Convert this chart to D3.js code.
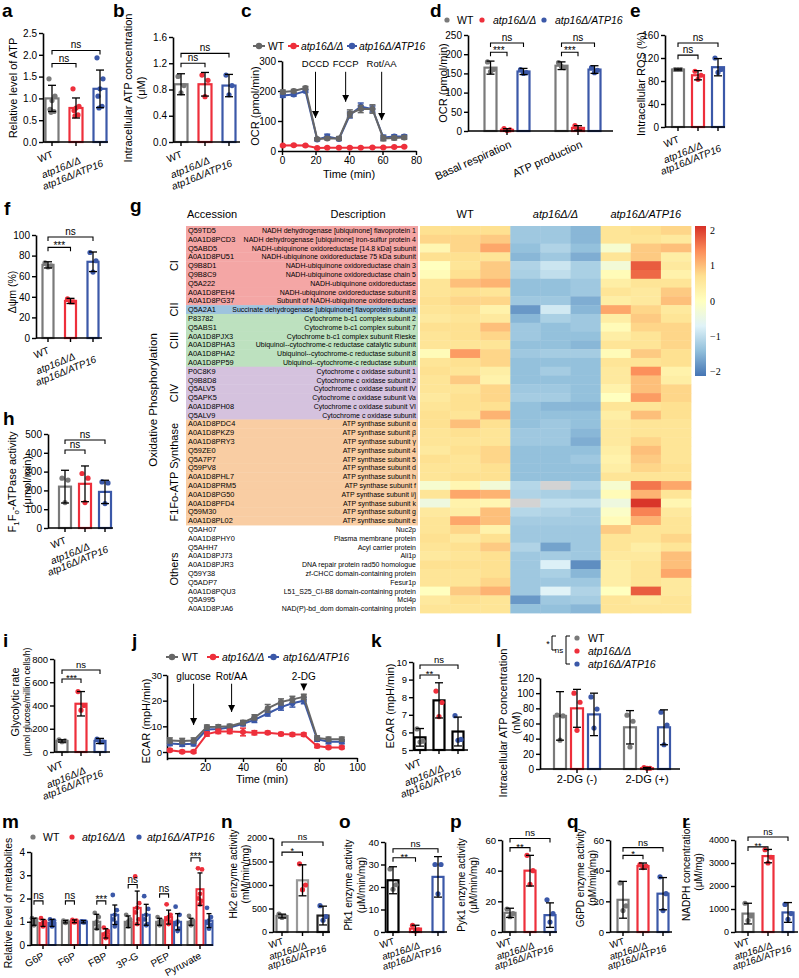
<!DOCTYPE html>
<html><head><meta charset="utf-8">
<script src="https://cdn.jsdelivr.net/npm/d3@7"></script>
<style>body{margin:0;background:#fff}svg{display:block}</style>
</head><body><script>
// ================= DATA =================
const groups3 = ["WT","atp16Δ/Δ","atp16Δ/ATP16"];
// a
const aMean=[1.0,0.78,1.22], aSD=[0.3,0.23,0.43];
const aPts=[[1.45,1.05,0.95,0.75,0.7,0.68],[1.22,0.82,0.78,0.72,0.62,0.6],[1.93,1.45,1.22,1.05,0.82,0.78]];
// b
const bMean=[0.88,0.88,0.86], bSD=[0.16,0.18,0.17];
const bPts=[[1.0,0.86,0.75],[1.02,0.94,0.69],[1.02,0.86,0.72]];
// c
const cTime=[0.5,7,14,21,27,34,40.5,47,54,60.5,67,73];
const cWT =[197,200,210,40,42,42,125,140,140,42,43,45];
const cDel=[18,19,18,10,11,11,11,11,12,12,13,14];
const cRes=[185,188,200,38,48,40,120,148,140,45,48,48];
const cWTe=[6,5,5,4,5,6,12,12,14,8,6,6];
const cDele=[3,3,3,2,2,2,2,2,2,2,2,2];
const cRese=[6,5,5,4,8,5,10,12,10,8,6,6];
const cArrows=[{t:20,label:"DCCD",tip:110},{t:38,label:"FCCP",tip:164},{t:59.5,label:"Rot/AA",tip:103}];
// d
const dCats=["Basal respiration","ATP production"];
const dMean=[[165,3,155],[170,8,160]], dSD=[[17,3,8],[10,6,10]];
const dPts=[[[180,160,155],[6,3,1],[160,152,150]],[[178,165,168],[14,5,4],[165,158,152]]];
// e
const eMean=[100,90,104], eSD=[1,8,15];
const ePts=[[100,100,100],[97,90,83],[120,100,95]];
// f
const fMean=[71,36,74], fSD=[3,2.5,9.5];
const fPts=[[73,70,69],[38,35,35],[83,75,64]];
// h
const hMean=[220,235,192], hSD=[87,95,62];
const hPts=[[265,255,135],[290,265,135],[245,240,130]];
// i
const iMean=[95,415,95], iSD=[10,105,22];
const iPts=[[105,95,88],[520,400,360],[110,88,85]];
// j
const jTime=[1.5,8,14,21,27,33,40,46,53,60,66,72,79,85,92];
const jWT =[4.5,4.3,4.5,9.7,9.8,10,11.5,13.5,17,19.5,20.5,21.5,5.5,5,5];
const jDel=[0.7,0.1,0.1,7,8,8,7.8,7.5,7.5,7,6.8,6.8,2.3,1.8,1.8];
const jRes=[3.3,3,3.2,8.8,9,9.5,11,12.5,15,17.5,19,20,5,4,4];
const jWTe=[1,1,1,0.8,0.8,0.8,0.8,1,1.5,1.2,1.2,1,0.8,0.8,0.8];
const jDele=[0.5,0.5,0.5,0.8,0.8,0.8,1.5,0.8,0.6,0.6,0.6,0.6,0.6,0.5,0.5];
const jRese=[0.8,0.8,0.8,0.8,0.8,0.8,0.8,1,1,1.2,1.5,1.2,0.8,0.8,0.8];
const jArrows=[{t:14,label:"glucose",tip:10.5},{t:34,label:"Rot/AA",tip:15.6},{t:72,label:"2-DG",tip:24}];
// k
const kMean=[5.72,7.82,6.05], kSD=[0.5,1.0,0.82];
const kPts=[[6.2,5.5,5.45],[8.35,7.7,6.9],[6.95,5.6,5.55]];
// l
const lCats=["2-DG (-)","2-DG (+)"];
const lMean=[[70,80,72],[55,1,55]], lSD=[[32,25,28],[22,1,23]];
const lPts=[[[71,70,38],[100,88,51],[95,79,54]],[[71,63,29],[2,1,1],[75,58,32]]];
// m
const mCats=["G6P","F6P","FBP","3P-G","PEP","Pyruvate"];
const mMean=[[1,1,1,1,1,1],[0.95,1.02,0.5,1.6,1.2,2.4],[0.95,1.0,1.3,1.3,1.0,1.05]];
const mSD=[[0.15,0.05,0.32,0.25,0.15,0.15],[0.15,0.06,0.2,0.72,0.3,0.7],[0.15,0.05,0.42,0.45,0.35,0.3]];
const mPts=[
 [[1.15,1.1,1.0,0.95,0.9,0.85],[1.05,1.02,1.0,1.0,0.98,0.95],[1.38,1.2,1.0,0.9,0.8,0.7],[1.3,1.1,1.0,0.9,0.85,0.8],[1.2,1.05,1.0,0.95,0.9,0.85],[1.25,1.05,1.0,0.95,0.9,0.85]],
 [[1.15,1.0,0.95,0.9,0.85,0.8],[1.08,1.05,1.02,1.0,1.0,0.97],[0.75,0.6,0.5,0.45,0.35,0.3],[2.95,1.8,1.6,1.4,1.1,0.9],[1.75,1.3,1.2,1.1,1.0,0.9],[3.3,3.25,2.2,2.0,1.9,1.75]],
 [[1.1,1.05,0.95,0.9,0.85,0.8],[1.02,1.0,1.0,1.0,0.98,0.97],[2.15,1.5,1.3,1.1,0.95,0.8],[2.1,1.55,1.3,1.1,0.9,0.85],[1.65,1.3,1.0,0.9,0.7,0.6],[1.6,1.2,1.05,0.95,0.85,0.7]]];
const mSig=["ns","ns","***","ns","ns","***"], mSigLevel=[1.9,1.9,1.9,2.6,2.2,3.75];
// n-r
const nMean=[340,1100,350], nSD=[40,330,200], nPts=[[380,330,310],[1450,1000,900],[560,330,250]];
const oMean=[23,1.5,24.5], oSD=[6,1.5,9], oPts=[[28,21,19],[3,1,0.5],[30,30,17]];
const pMean=[12.5,40,11], pSD=[3,10,8], pPts=[[15,12,10],[50,40,31],[21,12,6.5]];
const qMean=[21,43,25], qSD=[12,2,10.5], qPts=[[32,17,14],[44,43,42],[36,25,14]];
const rMean=[800,3300,850], rSD=[450,290,430], rPts=[[1250,700,500],[3580,3250,3000],[1200,800,550]];
// g heatmap
const hmGroups=["CI","CII","CIII","CIV","F1Fo-ATP Synthase","Others"];
const hmGroupSizes=[9,1,6,6,12,10];
const hmBand=["#F4A6A5","#9EC3DE","#BDE1BF","#D5C2DE","#F9CDA3",null];
const accessions=["Q59TD5","A0A1D8PCD3","Q5ABD5","A0A1D8PU51","Q9B8D1","Q9B8C9","Q5A222","A0A1D8PEH4","A0A1D8PG37",
"Q5A2A1","P83782","Q5ABS1","A0A1D8PJX3","A0A1D8PHA3","A0A1D8PHA2","A0A1D8PP59",
"P0C8K9","Q9B8D8","Q5ALV5","Q5APK5","A0A1D8PH08","Q5ALV9",
"A0A1D8PDC4","A0A1D8PKZ9","A0A1D8PRY3","Q59ZE0","Q5A7P7","Q59PV8","A0A1D8PHL7","A0A1D8PRM5","A0A1D8PG50","A0A1D8PFD4","Q59M30","A0A1D8PL02",
"Q5AH07","A0A1D8PHY0","Q5AHH7","A0A1D8PJ73","A0A1D8PJR3","Q59Y38","Q5ADP7","A0A1D8PQU3","Q5A995","A0A1D8PJA6"];
const descriptions=["NADH dehydrogenase [ubiquinone] flavoprotein 1","NADH dehydrogenase [ubiquinone] iron-sulfur protein 4","NADH-ubiquinone oxidoreductase [14.8 kDa] subunit","NADH-ubiquinone oxidoreductase 75 kDa subunit","NADH-ubiquinone oxidoreductase chain 3","NADH-ubiquinone oxidoreductase chain 5","NADH-ubiquinone oxidoreductase","NADH-ubiquinone oxidoreductase subunit 8","Subunit of NADH-ubiquinone oxidoreductase",
"Succinate dehydrogenase [ubiquinone] flavoprotein subunit",
"Cytochrome b-c1 complex subunit 2","Cytochrome b-c1 complex subunit 7","Cytochrome b-c1 complex subunit Rieske","Ubiquinol--cytochrome-c reductase catalytic subunit","Ubiquinol--cytochrome-c reductase subunit 8","Ubiquinol--cytochrome-c reductase subunit",
"Cytochrome c oxidase subunit 1","Cytochrome c oxidase subunit 2","Cytochrome c oxidase subunit IV","Cytochrome c oxidase subunit Va","Cytochrome c oxidase subunit VI","Cytochrome c oxidase subunit",
"ATP synthase subunit α","ATP synthase subunit β","ATP synthase subunit γ","ATP synthase subunit 4","ATP synthase subunit 5","ATP synthase subunit d","ATP synthase subunit h","ATP synthase subunit f","ATP synthase subunit i/j","ATP synthase subunit k","ATP synthase subunit g","ATP synthase subunit e",
"Nuc2p","Plasma membrane protein","Acyl carrier protein","Ali1p","DNA repair protein rad50 homologue","zf-CHCC domain-containing protein","Fesur1p","L51_S25_CI-B8 domain-containing protein","Mci4p","NAD(P)-bd_dom domain-containing protein"];
const hmValues=[
[0.7,0.7,0.7,-1.3,-1.3,-1.5,0.6,0.7,0.8],[0.8,0.8,0.9,-1.3,-1.3,-1.5,0.6,0.6,0.5],[0.2,0.8,1.2,-1.4,-1.15,-1.4,-0.2,0.9,1.0],[0.7,0.7,0.6,-1.5,-1.3,-1.6,0.6,0.9,0.4],
[0.0,0.6,0.9,-1.15,-0.9,-1.2,-0.3,1.8,0.5],[0.1,0.7,0.9,-1.2,-1.0,-1.2,0.1,1.7,0.3],[0.6,1.0,1.1,-1.4,-1.4,-1.3,0.4,0.6,0.6],[0.6,0.7,0.6,-1.4,-1.4,-1.3,0.6,0.5,0.9],
[0.7,0.8,0.8,-1.3,-1.3,-1.6,0.4,0.5,1.0],[0.6,0.7,0.3,-1.8,-0.85,-1.5,1.2,0.8,0.5],[0.5,0.6,0.5,-1.5,-1.2,-1.3,0.4,0.9,0.6],[0.7,0.7,1.0,-1.3,-1.4,-1.3,0.1,0.8,0.8],
[0.6,0.7,0.8,-1.3,-1.4,-1.4,0.4,0.6,0.8],[0.6,0.6,0.6,-1.4,-1.4,-1.5,0.6,0.6,0.8],[0.1,1.3,0.8,-1.3,-1.25,-1.25,0.1,0.9,0.7],[0.6,0.7,0.8,-1.4,-1.4,-1.4,0.6,0.6,0.7],
[0.7,0.6,0.4,-1.4,-1.25,-1.4,0.5,1.4,0.3],[0.6,0.9,0.3,-1.4,-1.4,-1.4,0.5,1.0,0.4],[0.6,0.6,0.8,-1.3,-1.3,-1.4,0.3,1.0,0.8],[0.5,0.7,0.8,-1.25,-1.25,-1.4,0.0,1.3,0.8],
[0.6,0.7,0.7,-1.4,-1.5,-1.5,0.6,0.6,0.7],[0.7,0.6,1.1,-1.4,-1.4,-1.4,0.4,1.0,0.7],[0.7,1.0,0.7,-1.4,-1.3,-1.4,0.5,0.6,0.6],[0.6,0.7,0.6,-1.3,-1.3,-1.5,0.5,0.6,0.6],
[0.6,0.6,0.6,-1.3,-1.3,-1.6,0.5,0.8,0.6],[0.5,0.7,0.8,-1.4,-1.4,-1.4,0.4,1.0,0.6],[0.7,0.6,0.8,-1.4,-1.4,-1.3,0.3,0.9,0.6],[0.6,0.6,0.7,-1.4,-1.4,-1.4,0.4,0.8,0.7],
[0.6,0.7,0.7,-1.4,-1.4,-1.4,0.6,0.6,0.6],[-0.2,0.2,-0.3,-1.1,null,-1.15,-0.2,1.6,1.2],[0.6,1.2,1.1,-1.15,-1.2,-1.25,0.1,1.1,0.6],[-0.4,0.3,0.2,null,-1.0,-1.0,-0.4,2.1,0.2],
[0.5,0.4,1.0,-1.1,-1.15,-1.25,-0.1,1.5,0.5],[0.6,1.2,1.0,-1.25,-1.25,-1.25,0.1,1.1,0.6],[0.6,0.8,0.3,-1.3,-1.3,-1.3,0.9,0.6,0.6],[0.7,0.5,0.7,-1.3,-1.3,-1.3,0.6,0.6,0.8],
[0.6,0.7,0.9,-1.15,-1.7,-1.3,0.6,0.4,0.6],[0.5,0.6,0.7,-1.3,-1.25,-1.3,0.5,0.5,1.0],[0.7,0.7,0.7,-1.3,-0.75,-1.9,0.4,0.6,1.0],[0.6,0.6,0.7,-1.3,-1.2,-1.5,0.4,0.6,1.2],
[0.6,0.6,0.8,-1.3,-1.3,-1.3,0.4,0.6,0.5],[0.0,0.9,1.1,-1.3,-0.7,-1.15,0.0,1.8,0.5],[0.5,0.7,0.6,-1.8,-1.3,-1.25,0.6,0.5,0.6],[0.6,0.6,0.6,-1.4,-1.4,-1.5,0.6,0.6,0.6]];
const hmColLabels=["WT","atp16Δ/Δ","atp16Δ/ATP16"];
const cbTicks=[2,1,0,-1,-2];
const PAL=["#4575B4","#91BFDB","#E0F3F8","#FFFFBF","#FEE090","#FC8D59","#D73027"];

// ================= DRAWING =================
const FONT="Arial, 'Liberation Sans', Helvetica, sans-serif";
const GRAY="#7a7a7a", RED="#ee2f3b", BLUE="#3b58a8", LGRAY="#666666";
const C3=[GRAY,RED,BLUE];
const JIT=[-3,3,0,-2,2,-1];
const svg=d3.select("body").append("svg").attr("width",799).attr("height",978).attr("font-family",FONT);
svg.append("rect").attr("width",799).attr("height",978).attr("fill","#fff");
const defs=svg.append("defs");
defs.append("marker").attr("id","ah").attr("viewBox","0 0 10 10").attr("refX",10).attr("refY",5)
 .attr("markerWidth",7).attr("markerHeight",8).attr("orient","auto").append("path").attr("d","M0,0L10,5L0,10z").attr("fill","#000");

function letter(t,x,y){svg.append("text").attr("x",x).attr("y",y).attr("font-size",19).attr("font-weight","bold").text(t);}
function styleAxis(a,fs){a.attr("font-family",FONT).attr("font-size",fs);
 a.select(".domain").attr("stroke","#000").attr("stroke-width",1.6);
 a.selectAll(".tick line").attr("stroke","#000").attr("stroke-width",1.4);
 a.selectAll(".tick text").attr("fill","#000");}
function yAxis(g,y,x0,ticks,fmt,fs,pad){const a=g.append("g").attr("transform",`translate(${x0},0)`)
 .call(d3.axisLeft(y).tickValues(ticks).tickFormat(fmt).tickSize(4).tickSizeOuter(0).tickPadding(pad==null?2:pad));styleAxis(a,fs||10);return a;}
function xBase(g,x0,x1,yy,ticks){g.append("line").attr("x1",x0).attr("x2",x1).attr("y1",yy).attr("y2",yy).attr("stroke","#000").attr("stroke-width",1.6);
 ticks.forEach(t=>g.append("line").attr("x1",t).attr("x2",t).attr("y1",yy).attr("y2",yy+4).attr("stroke","#000").attr("stroke-width",1.4));}
function errbar(g,cx,y1,y2,cap){g.append("line").attr("x1",cx).attr("x2",cx).attr("y1",y1).attr("y2",y2).attr("stroke","#000").attr("stroke-width",1.3);
 [y1,y2].forEach(v=>g.append("line").attr("x1",cx-cap/2).attr("x2",cx+cap/2).attr("y1",v).attr("y2",v).attr("stroke","#000").attr("stroke-width",1.3));}
function bracket(g,x1,x2,yy,label,fs){g.append("path").attr("d",`M${x1},${yy+4}V${yy}H${x2}V${yy+4}`).attr("fill","none").attr("stroke","#000").attr("stroke-width",1.1);
 const star=label.startsWith("*");
 g.append("text").attr("x",(x1+x2)/2).attr("y",star?yy+2:yy-2).attr("text-anchor","middle").attr("font-size",fs||10).text(label);}
function ylab(g,lines,xs,cy,sizes){lines.forEach((t,i)=>{const el=g.append("text").attr("transform",`translate(${xs[i]},${cy}) rotate(-90)`)
 .attr("text-anchor","middle").attr("font-size",sizes[i]);if(typeof t==="function")t(el);else el.text(t);});}
const LAB_TOP={dx:[2,5.5,4],dy:[15,21,24],ang:-22};
const LAB_BOT={dx:[2,5,4],dy:[12,16,19],ang:-18};
function xlab3(g,cs,yy,fs,L){groups3.forEach((t,i)=>g.append("text").attr("transform",`translate(${cs[i]+L.dx[i]},${yy+L.dy[i]}) rotate(${L.ang})`)
 .attr("text-anchor","end").attr("font-size",fs).attr("font-style",i?"italic":"normal").text(t));}

function threeBar(p){
 const g=svg.append("g");
 const y=d3.scaleLinear().domain(p.domain).range([p.bottom,p.top]);
 const x=d3.scalePoint().domain(groups3).range(p.centers);
 const cs=groups3.map(c=>x(c));
 const bc=p.barColors||C3;
 groups3.forEach((c,i)=>g.append("rect").attr("x",x(c)-p.bw/2).attr("y",y(p.mean[i])).attr("width",p.bw)
  .attr("height",Math.max(0,y(p.domain[0])-y(p.mean[i]))).attr("fill","#fff").attr("stroke",bc[i]).attr("stroke-width",2.2));
 groups3.forEach((c,i)=>p.pts[i].forEach((v,k)=>g.append("circle").attr("cx",x(c)+JIT[k]).attr("cy",y(v)).attr("r",2.6).attr("fill",C3[i])));
 groups3.forEach((c,i)=>errbar(g,x(c),y(Math.max(p.domain[0],p.mean[i]-p.sd[i])),y(p.mean[i]+p.sd[i]),8));
 yAxis(g,y,p.left,p.ticks,p.fmt,p.fs);
 xBase(g,p.left,p.right,p.bottom,cs);
 xlab3(g,cs,p.bottom,p.xfs||10,p.lab||LAB_TOP);
 (p.brackets||[]).forEach(b=>bracket(g,cs[b[0]],cs[b[1]],y(b[2]),b[3],p.fs));
 ylab(g,p.ylabel,p.ylx,p.ylcy,p.yls);
 return g;
}
function lineSeries(g,x,y,t,v,e,col){
 g.append("path").datum(t.map((tt,i)=>[tt,v[i]])).attr("d",d3.line().x(d=>x(d[0])).y(d=>y(d[1]))).attr("fill","none").attr("stroke",col).attr("stroke-width",2);
 t.forEach((tt,i)=>{const cx=x(tt);
  g.append("line").attr("x1",cx).attr("x2",cx).attr("y1",y(v[i]-e[i])).attr("y2",y(v[i]+e[i])).attr("stroke",col).attr("stroke-width",1.5);
  [v[i]-e[i],v[i]+e[i]].forEach(w=>g.append("line").attr("x1",cx-3).attr("x2",cx+3).attr("y1",y(w)).attr("y2",y(w)).attr("stroke",col).attr("stroke-width",1.5));
  g.append("circle").attr("cx",cx).attr("cy",y(v[i])).attr("r",3).attr("fill",col);});
}
function lineLegend(g,items,yy,fs){items.forEach(it=>{g.append("line").attr("x1",it.x1).attr("x2",it.x2).attr("y1",yy).attr("y2",yy).attr("stroke",it.c).attr("stroke-width",2);
 g.append("circle").attr("cx",(it.x1+it.x2)/2).attr("cy",yy).attr("r",3.2).attr("fill",it.c);
 g.append("text").attr("x",it.tx).attr("y",yy+4).attr("font-size",fs).attr("font-style",it.it?"italic":"normal").text(it.t);});}
function dotLegend(g,items,yy,fs){items.forEach(it=>{g.append("circle").attr("cx",it.x).attr("cy",it.y||yy).attr("r",2.6).attr("fill",it.c);
 g.append("text").attr("x",it.tx).attr("y",(it.y||yy)+4).attr("font-size",fs).attr("font-style",it.it?"italic":"normal").text(it.t);});}
function arrows(g,x,y,list,startV,labelV,fs){list.forEach(a=>{const xx=x(a.t);
 g.append("text").attr("x",xx).attr("y",y(labelV)).attr("text-anchor","middle").attr("font-size",fs).text(a.label);
 g.append("line").attr("x1",xx).attr("x2",xx).attr("y1",y(startV)).attr("y2",y(a.tip)).attr("stroke","#000").attr("stroke-width",1).attr("marker-end","url(#ah)");});}

// ---- a ----
letter("a",2,17);
threeBar({left:43,right:108,bottom:142,top:33,domain:[0,2.5],ticks:[0,0.5,1,1.5,2,2.5],fmt:d3.format(".1f"),centers:[52,100],bw:13,
 mean:aMean,sd:aSD,pts:aPts,brackets:[[0,1,1.8,"ns"],[0,2,2.1,"ns"]],ylabel:["Relative level of ATP"],ylx:[17],ylcy:88,yls:[11]});
// ---- b ----
letter("b",113,17);
threeBar({left:173,right:240,bottom:142,top:37,domain:[0,1.6],ticks:[0,0.4,0.8,1.2,1.6],fmt:d3.format(".1f"),centers:[181,229],bw:13,
 mean:bMean,sd:bSD,pts:bPts,brackets:[[0,1,1.2,"ns"],[0,2,1.35,"ns"]],ylabel:["Intracellular ATP concentration","(μM)"],ylx:[132,145],ylcy:88,yls:[11,11]});
// ---- c ----
letter("c",241,17);
{const g=svg.append("g");
 const x=d3.scaleLinear().domain([0,80]).range([282,416]);
 const y=d3.scaleLinear().domain([0,300]).range([151,61]);
 yAxis(g,y,282,[0,100,200,300],d3.format("d"),10);
 const ax=g.append("g").attr("transform","translate(0,151)").call(d3.axisBottom(x).tickValues([0,20,40,60,80]).tickSize(4).tickSizeOuter(0).tickPadding(2));styleAxis(ax,10);
 lineSeries(g,x,y,cTime,cRes,cRese,BLUE);
 lineSeries(g,x,y,cTime,cWT,cWTe,LGRAY);
 lineSeries(g,x,y,cTime,cDel,cDele,RED);
 arrows(g,x,y,cArrows,264,280,9.5);
 g.append("text").attr("x",349).attr("y",178).attr("text-anchor","middle").attr("font-size",11).text("Time (min)");
 ylab(g,["OCR (pmol/min)"],[259],106,[11]);
 lineLegend(g,[{x1:253,x2:265,c:LGRAY,tx:268,t:"WT"},{x1:288,x2:299,c:RED,tx:301,t:"atp16Δ/Δ",it:1},{x1:347,x2:357,c:BLUE,tx:359,t:"atp16Δ/ATP16",it:1}],46,10.3);
}
// ---- d ----
letter("d",430,17);
{const g=svg.append("g");
 const y=d3.scaleLinear().domain([0,250]).range([131,35]);
 const x=d3.scalePoint().domain(dCats).range([507,578]);
 const off=[-16.5,0,16.5];
 dCats.forEach((c,gi)=>{
  for(let i=0;i<3;i++){const cx=x(c)+off[i];
   g.append("rect").attr("x",cx-6).attr("y",y(dMean[gi][i])).attr("width",12).attr("height",y(0)-y(dMean[gi][i])).attr("fill","#fff").attr("stroke",C3[i]).attr("stroke-width",2.2);}
  for(let i=0;i<3;i++){const cx=x(c)+off[i];dPts[gi][i].forEach((v,k)=>g.append("circle").attr("cx",cx+JIT[k]).attr("cy",y(v)).attr("r",2.6).attr("fill",C3[i]));}
  for(let i=0;i<3;i++){const cx=x(c)+off[i];errbar(g,cx,y(Math.max(0,dMean[gi][i]-dSD[gi][i])),y(dMean[gi][i]+dSD[gi][i]),8);}
  bracket(g,x(c)+off[0],x(c)+off[1],y(205),"***");
  bracket(g,x(c)+off[0],x(c)+off[2],y(229),"ns");
  g.append("text").attr("transform",`translate(${x(c)+5},${y(0)+16}) rotate(-24)`).attr("text-anchor","end").attr("font-size",11).text(c);
 });
 yAxis(g,y,468,[0,50,100,150,200,250],d3.format("d"),10);
 xBase(g,468,613,131,dCats.map(c=>x(c)));
 ylab(g,["OCR (pmol/min)"],[447],83,[11]);
 dotLegend(g,[{x:447,c:GRAY,tx:457,t:"WT"},{x:482,c:RED,tx:493,t:"atp16Δ/Δ",it:1},{x:544,c:BLUE,tx:555,t:"atp16Δ/ATP16",it:1}],20,10.5);
}
// ---- e ----
letter("e",630,17);
threeBar({left:665,right:725,bottom:127,top:35,domain:[0,160],ticks:[0,40,80,120,160],fmt:d3.format("d"),centers:[678,718],bw:12,
 mean:eMean,sd:eSD,pts:ePts,brackets:[[0,1,125,"ns"],[0,2,146,"ns"]],ylabel:["Intracellular ROS (%)"],ylx:[645],ylcy:84,yls:[11]});
// ---- f ----
letter("f",4,215);
threeBar({left:36,right:102,bottom:338,top:235,domain:[0,100],ticks:[0,20,40,60,80,100],fmt:d3.format("d"),centers:[48,93],bw:11,
 mean:fMean,sd:fSD,pts:fPts,brackets:[[0,1,88,"***"],[0,2,98,"ns"]],ylabel:["Δψm (%)"],ylx:[16],ylcy:292,yls:[10.5]});
// ---- h ----
letter("h",3,425);
threeBar({left:48,right:113,bottom:528,top:434,domain:[0,500],ticks:[0,100,200,300,400,500],fmt:d3.format("d"),centers:[65,105],bw:12,
 mean:hMean,sd:hSD,pts:hPts,brackets:[[0,1,415,"ns"],[0,2,468,"ns"]],
 ylabel:[el=>{el.append("tspan").text("F");el.append("tspan").attr("dy",2.5).attr("font-size",8).text("1");el.append("tspan").attr("dy",-2.5).text("F");
  el.append("tspan").attr("dy",2.5).attr("font-size",8).text("o");el.append("tspan").attr("dy",-2.5).text("-ATPase activity");},"(μmol/min)"],
 ylx:[16,31],ylcy:482,yls:[11,11]});
// ---- g heatmap ----
letter("g",130,212);
{const g=svg.append("g");
 const rowY=d3.scaleBand().domain(d3.range(accessions.length)).range([226,613]);
 const colX=d3.scaleBand().domain(d3.range(9)).range([420,691]);
 const col=d3.scaleLinear().domain(d3.range(7).map(i=>-2.14+i*4.28/6)).range(PAL).clamp(true);
 const rowGroup=[];hmGroupSizes.forEach((n,gi)=>{for(let k=0;k<n;k++)rowGroup.push(gi);});
 const bh=rowY.bandwidth();
 accessions.forEach((a,i)=>{const bcol=hmBand[rowGroup[i]];
  if(bcol)g.append("rect").attr("x",186).attr("y",rowY(i)).attr("width",232).attr("height",bh+0.4).attr("fill",bcol);});
 accessions.forEach((a,i)=>{const yy=rowY(i)+bh/2+2.6;
  g.append("text").attr("x",188).attr("y",yy).attr("font-size",7.4).text(a);
  g.append("text").attr("x",416).attr("y",yy).attr("text-anchor","end").attr("font-size",7).text(descriptions[i]);});
 hmValues.forEach((row,i)=>row.forEach((v,j)=>g.append("rect").attr("x",colX(j)).attr("y",rowY(i)).attr("width",colX.bandwidth()+0.4).attr("height",bh+0.4)
  .attr("fill",v==null?"#D3D3D3":col(v))));
 let start=0;
 hmGroups.forEach((name,gi)=>{const n=hmGroupSizes[gi];const cy=rowY(start)+n*bh/2;
  g.append("text").attr("transform",`translate(178,${cy}) rotate(-90)`).attr("text-anchor","middle").attr("font-size",11).text(name);start+=n;});
 g.append("text").attr("transform",`translate(157,400) rotate(-90)`).attr("text-anchor","middle").attr("font-size",11.5).text("Oxidative Phosphorylation");
 g.append("text").attr("x",187).attr("y",218).attr("font-size",11).text("Accession");
 g.append("text").attr("x",358).attr("y",218).attr("text-anchor","middle").attr("font-size",11).text("Description");
 hmColLabels.forEach((t,k)=>g.append("text").attr("x",(colX(k*3)+colX(k*3+2)+colX.bandwidth())/2).attr("y",218).attr("text-anchor","middle")
  .attr("font-size",11).attr("font-style",k?"italic":"normal").text(t));
 const grad=defs.append("linearGradient").attr("id","cbg").attr("x1",0).attr("y1",1).attr("x2",0).attr("y2",0);
 PAL.forEach((c,i)=>grad.append("stop").attr("offset",i/6).attr("stop-color",c));
 g.append("rect").attr("x",695).attr("y",226).attr("width",11).attr("height",150).attr("fill","url(#cbg)");
 const cy=d3.scaleLinear().domain([-2.14,2.14]).range([376,226]);
 cbTicks.forEach(t=>g.append("text").attr("x",710).attr("y",cy(t)+3.5).attr("font-family","'Liberation Serif','Times New Roman',serif").attr("font-size",10)
  .text(t<0?"\u2212"+Math.abs(t):t));
}
// ---- i ----
letter("i",3,647);
threeBar({left:54,right:110,bottom:752,top:659,domain:[0,800],ticks:[0,200,400,600,800],fmt:d3.format("d"),centers:[62,100],bw:11,fs:9.5,
 mean:iMean,sd:iSD,pts:iPts,brackets:[[0,1,628,"***"],[0,2,705,"ns"]],ylabel:["Glycolytic rate","(μmol glucose/million cells/h)"],ylx:[19,30],ylcy:702,yls:[11,8.5]});
// ---- j ----
letter("j",132,647);
{const g=svg.append("g");
 const x=d3.scaleLinear().domain([0,100]).range([167,357]);
 const y=d3.scaleLinear().domain([-3,30]).range([759.7,675]);
 yAxis(g,y,167,[0,10,20,30],d3.format("d"),9.5,1);
 const ax=g.append("g").attr("transform","translate(0,758)").call(d3.axisBottom(x).tickValues([20,40,60,80,100]).tickSize(4).tickSizeOuter(0).tickPadding(2));styleAxis(ax,10);
 lineSeries(g,x,y,jTime,jRes,jRese,BLUE);
 lineSeries(g,x,y,jTime,jWT,jWTe,LGRAY);
 lineSeries(g,x,y,jTime,jDel,jDele,RED);
 arrows(g,x,y,jArrows,26.6,28.2,10);
 g.append("text").attr("x",262).attr("y",783).attr("text-anchor","middle").attr("font-size",11).text("Time (min)");
 ylab(g,["ECAR (mpH/min)"],[150],721,[11]);
 lineLegend(g,[{x1:166,x2:178,c:LGRAY,tx:182,t:"WT"},{x1:207,x2:219,c:RED,tx:222,t:"atp16Δ/Δ",it:1},{x1:268,x2:279,c:BLUE,tx:283,t:"atp16Δ/ATP16",it:1}],657,10.3);
}
// ---- k ----
letter("k",371,647);
threeBar({left:413,right:468,bottom:750,top:662,domain:[5,10],ticks:[5,6,7,8,9,10],fmt:d3.format("d"),centers:[420,458],bw:11,fs:9.5,barColors:["#000","#000","#000"],
 mean:kMean,sd:kSD,pts:kPts,brackets:[[0,1,9.26,"**"],[0,2,9.83,"ns"]],ylabel:["ECAR (mpH/min)"],ylx:[394],ylcy:706,yls:[11]});
// ---- l ----
letter("l",496,647);
{const g=svg.append("g");
 const y=d3.scaleLinear().domain([0,120]).range([769,678]);
 const x=d3.scalePoint().domain(lCats).range([577,647]);
 const off=[-17,0,17];
 lCats.forEach((c,gi)=>{
  for(let i=0;i<3;i++){const cx=x(c)+off[i];
   g.append("rect").attr("x",cx-6).attr("y",y(lMean[gi][i])).attr("width",12).attr("height",y(0)-y(lMean[gi][i])).attr("fill","#fff").attr("stroke",C3[i]).attr("stroke-width",2.2);}
  for(let i=0;i<3;i++){const cx=x(c)+off[i];lPts[gi][i].forEach((v,k)=>g.append("circle").attr("cx",cx+JIT[k]).attr("cy",y(v)).attr("r",2.6).attr("fill",C3[i]));}
  for(let i=0;i<3;i++){const cx=x(c)+off[i];errbar(g,cx,y(Math.max(0,lMean[gi][i]-lSD[gi][i])),y(lMean[gi][i]+lSD[gi][i]),8);}
  g.append("text").attr("x",x(c)).attr("y",783).attr("text-anchor","middle").attr("font-size",11).text(c);
 });
 yAxis(g,y,540,[0,20,40,60,80,100,120],d3.format("d"),10);
 xBase(g,540,680,769,lCats.map(c=>x(c)));
 ylab(g,["Intracellular ATP concentration","(nM)"],[507,520],723,[11,11]);
 dotLegend(g,[{x:577,y:638,c:GRAY,tx:588,t:"WT"},{x:577,y:651,c:RED,tx:588,t:"atp16Δ/Δ",it:1},{x:577,y:664,c:BLUE,tx:588,t:"atp16Δ/ATP16",it:1}],0,10.5);
 g.append("path").attr("d","M556,636H552V650H556").attr("fill","none").attr("stroke","#000").attr("stroke-width",1);
 g.append("path").attr("d","M570,636H566V664H570").attr("fill","none").attr("stroke","#000").attr("stroke-width",1);
 g.append("text").attr("x",548).attr("y",647).attr("text-anchor","middle").attr("font-size",9).text("*");
 g.append("text").attr("x",559).attr("y",653).attr("text-anchor","middle").attr("font-size",8).text("ns");
}
// ---- m ----
letter("m",2,828);
{const g=svg.append("g");
 const y=d3.scaleLinear().domain([0,4]).range([945,852]);
 const x=d3.scalePoint().domain(mCats).range([43,200]);
 const off=[-9,0,9];
 mCats.forEach((c,gi)=>{
  for(let i=0;i<3;i++){const cx=x(c)+off[i];
   g.append("rect").attr("x",cx-3.5).attr("y",y(mMean[i][gi])).attr("width",7).attr("height",y(0)-y(mMean[i][gi])).attr("fill","#fff").attr("stroke",C3[i]).attr("stroke-width",2);}
  for(let i=0;i<3;i++){const cx=x(c)+off[i];mPts[i][gi].forEach((v,k)=>g.append("circle").attr("cx",cx+[-2,2,0,-1.5,1.5,0][k]).attr("cy",y(v)).attr("r",2.4).attr("fill",C3[i]));}
  for(let i=0;i<3;i++){const cx=x(c)+off[i];errbar(g,cx,y(Math.max(0,mMean[i][gi]-mSD[i][gi])),y(mMean[i][gi]+mSD[i][gi]),5);}
  bracket(g,x(c)+off[0],x(c)+off[1],y(mSigLevel[gi]),mSig[gi],10);
  g.append("text").attr("transform",`translate(${x(c)+2},${y(0)+13}) rotate(-28)`).attr("text-anchor","end").attr("font-size",10).text(c);
 });
 yAxis(g,y,31,[0,1,2,3,4],d3.format("d"),10);
 xBase(g,31,213,945,mCats.map(c=>x(c)));
 ylab(g,["Relative level of metabolites"],[12],903,[10.5]);
 dotLegend(g,[{x:33,c:GRAY,tx:43,t:"WT"},{x:72,c:RED,tx:82,t:"atp16Δ/Δ",it:1},{x:139,c:BLUE,tx:147,t:"atp16Δ/ATP16",it:1}],837,10.5);
}
// ---- n ----
letter("n",221,828);
threeBar({left:273,right:330,bottom:932,top:838,domain:[0,2000],ticks:[0,500,1000,1500,2000],fmt:d3.format("d"),centers:[282,323],bw:11,fs:9,xfs:9.5,lab:LAB_BOT,
 barColors:[GRAY,"#9a9a9a","#222"],mean:nMean,sd:nSD,pts:nPts,brackets:[[0,1,1700,"*"],[0,2,1915,"ns"]],
 ylabel:["Hk2 enzyme activity","(mM/min/mg)"],ylx:[237,249],ylcy:874,yls:[10,10]});
// ---- o ----
letter("o",339,828);
threeBar({left:385,right:447,bottom:932,top:842,domain:[0,40],ticks:[0,10,20,30,40],fmt:d3.format("d"),centers:[393,438],bw:11,fs:9.5,xfs:9.5,lab:LAB_BOT,
 barColors:["#000",RED,BLUE],mean:oMean,sd:oSD,pts:oPts,brackets:[[0,1,33,"**"],[0,2,37,"ns"]],
 ylabel:["Pfk1 enzyme activity","(μM/min/mg)"],ylx:[352,365],ylcy:885,yls:[10,10]});
// ---- p ----
letter("p",450,828);
threeBar({left:502,right:557,bottom:932,top:840,domain:[0,60],ticks:[0,20,40,60],fmt:d3.format("d"),centers:[510,550],bw:11,fs:9.5,xfs:9.5,lab:LAB_BOT,
 mean:pMean,sd:pSD,pts:pPts,brackets:[[0,1,55,"**"],[0,2,61,"ns"]],
 ylabel:["Pyk1 enzyme activity","(μM/min/mg)"],ylx:[465,477],ylcy:885,yls:[10,10]});
// ---- q ----
letter("q",567,828);
threeBar({left:610,right:672,bottom:932,top:840,domain:[0,60],ticks:[0,20,40,60],fmt:d3.format("d"),centers:[623,663],bw:11,fs:9.5,xfs:9.5,lab:LAB_BOT,
 mean:qMean,sd:qSD,pts:qPts,brackets:[[0,1,50,"*"],[0,2,55,"ns"]],
 ylabel:["G6PD enzyme activity","(nM/min/mg)"],ylx:[584,596],ylcy:878,yls:[10,10]});
// ---- r ----
letter("r",682,828);
threeBar({left:735,right:798,bottom:932,top:840,domain:[0,4000],ticks:[0,1000,2000,3000,4000],fmt:d3.format("d"),centers:[748,788],bw:11,fs:9,xfs:9.5,lab:LAB_BOT,
 mean:rMean,sd:rSD,pts:rPts,brackets:[[0,1,3700,"**"],[0,2,4130,"ns"]],
 ylabel:["NADPH concentration","(μM/mg)"],ylx:[690,702],ylcy:872,yls:[10,10]});
</script></body></html>
